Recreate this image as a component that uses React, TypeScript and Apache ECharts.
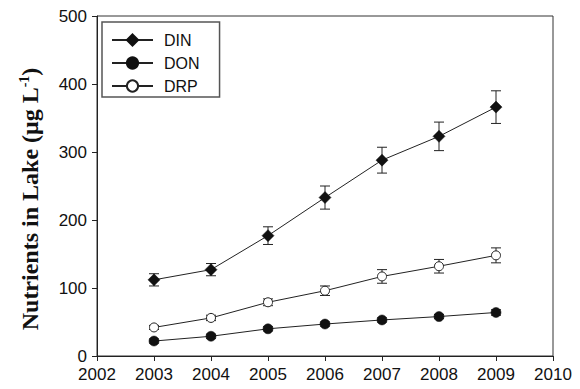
import React, { useEffect, useRef } from "react";
import * as echarts from "echarts";

const years = [2003, 2004, 2005, 2006, 2007, 2008, 2009];
const dinValues = [112, 127, 177, 233, 288, 323, 366];
const dinErr = [9, 9, 13, 17, 19, 21, 24];
const donValues = [22, 29, 40, 47, 53, 58, 64];
const donErr = [3, 3, 3, 3, 3, 3, 4];
const drpValues = [42, 56, 79, 96, 117, 132, 148];
const drpErr = [3, 4, 5, 7, 10, 10, 11];

function errSeries(vals: number[], errs: number[], z: number) {
  return {
    type: "custom",
    z,
    silent: true,
    renderItem: (params: any, api: any) => {
      const x = api.value(0);
      const lo = api.coord([x, api.value(1)]);
      const hi = api.coord([x, api.value(2)]);
      const half = 5;
      const st = { stroke: "#222", lineWidth: 1 };
      return {
        type: "group",
        children: [
          { type: "line", shape: { x1: lo[0], y1: lo[1], x2: hi[0], y2: hi[1] }, style: st },
          { type: "line", shape: { x1: lo[0] - half, y1: lo[1], x2: lo[0] + half, y2: lo[1] }, style: st },
          { type: "line", shape: { x1: hi[0] - half, y1: hi[1], x2: hi[0] + half, y2: hi[1] }, style: st },
        ],
      };
    },
    data: years.map((y, i) => [y, vals[i] - errs[i], vals[i] + errs[i]]),
  };
}

export default function App() {
  const ref = useRef<HTMLDivElement>(null);
  useEffect(() => {
    const chart = echarts.init(ref.current!, null, { renderer: "svg" });
    const font = "'Liberation Sans', Arial, Helvetica, sans-serif";
    const serif = "'Liberation Serif', 'Times New Roman', serif";
    chart.setOption({
      animation: false,
      backgroundColor: "#fff",
      grid: {
        left: 97,
        top: 16,
        width: 456,
        height: 340,
        show: true,
        borderColor: "#333",
        borderWidth: 1,
      },
      legend: {
        left: 102,
        top: 22,
        orient: "vertical",
        itemWidth: 41,
        itemHeight: 14,
        itemGap: 7,
        padding: [10, 20, 3, 9],
        borderColor: "#555",
        borderWidth: 1.5,
        textStyle: { fontFamily: font, fontSize: 16, color: "#111", padding: [0, 0, 0, 6] },
        data: ["DIN", "DON", "DRP"],
      },
      xAxis: {
        type: "value",
        min: 2002,
        max: 2010,
        interval: 1,
        splitLine: { show: false },
        axisLine: { lineStyle: { color: "#222" } },
        axisTick: { length: 5, lineStyle: { color: "#222" } },
        axisLabel: {
          fontFamily: font,
          fontSize: 17,
          color: "#111",
          margin: 10,
          formatter: (v: number) => String(v),
        },
      },
      yAxis: {
        type: "value",
        min: 0,
        max: 500,
        interval: 100,
        splitLine: { show: false },
        axisLine: { show: true, lineStyle: { color: "#222" } },
        axisTick: { show: true, length: 5, lineStyle: { color: "#222" } },
        axisLabel: { fontFamily: font, fontSize: 17, color: "#111", margin: 10 },
        name: "{a|Nutrients in Lake (μg L}{s|-1}{a|)}",
        nameLocation: "middle",
        nameRotate: 90,
        nameGap: 54,
        nameTextStyle: {
          fontFamily: serif,
          fontWeight: "bold",
          fontSize: 24,
          color: "#111",
          padding: [0, 26, 0, 0],
          rich: {
            a: {
              fontFamily: serif,
              fontWeight: "bold",
              fontSize: 24,
              color: "#111",
            },
            s: {
              fontFamily: serif,
              fontWeight: "bold",
              fontSize: 14,
              color: "#111",
              verticalAlign: "top",
              padding: [0, 0, 12, 0],
            },
          },
        },
      },
      series: [
        errSeries(dinValues, dinErr, 1),
        errSeries(donValues, donErr, 1),
        errSeries(drpValues, drpErr, 1),
        {
          name: "DIN",
          type: "line",
          z: 3,
          data: years.map((y, i) => [y, dinValues[i]]),
          symbol: "diamond",
          symbolSize: 12,
          lineStyle: { color: "#222", width: 1 },
          itemStyle: { color: "#111", borderColor: "#111", borderWidth: 0.5 },
        },
        {
          name: "DON",
          type: "line",
          z: 3,
          data: years.map((y, i) => [y, donValues[i]]),
          symbol: "circle",
          symbolSize: 10,
          lineStyle: { color: "#222", width: 1 },
          itemStyle: { color: "#111", borderColor: "#111", borderWidth: 0.5 },
        },
        {
          name: "DRP",
          type: "line",
          z: 3,
          data: years.map((y, i) => [y, drpValues[i]]),
          symbol: "circle",
          symbolSize: 9,
          lineStyle: { color: "#222", width: 1 },
          itemStyle: { color: "#fff", borderColor: "#222", borderWidth: 1 },
        },
      ],
    });
    return () => chart.dispose();
  }, []);
  return <div ref={ref} style={{ width: 580, height: 389, margin: -8 }} />;
}
